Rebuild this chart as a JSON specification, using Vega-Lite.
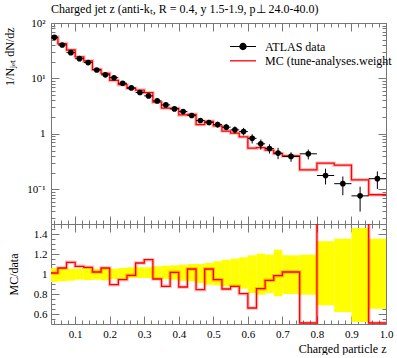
{
  "$schema": "https://vega.github.io/schema/vega-lite/v6.json",
  "padding": {"left": 2, "top": 2, "right": 0, "bottom": 0},
  "spacing": 0,
  "bounds": "flush",
  "config": {
    "view": {"stroke": "#777", "strokeWidth": 1},
    "font": "Liberation Serif",
    "axis": {"domain": false, "grid": false, "tickColor": "#777", "tickWidth": 1, "labelFont": "Liberation Serif", "labelFontSize": 11, "labelColor": "black", "titleFont": "Liberation Serif", "titleFontSize": 12, "titleFontWeight": "normal", "titleColor": "black", "labelFlush": false, "labelOverlap": false, "labelBound": false, "labelPadding": 14}
  },
  "datasets": {
    "bins": [
      {"lo": 0.03, "hi": 0.05, "z": 0.04, "y": 55.2, "ylo": 50.8, "yhi": 58.5, "mc": 55.8, "r": 1.01, "blo": 0.92, "bhi": 1.06},
      {"lo": 0.05, "hi": 0.075, "z": 0.0625, "y": 40.1, "ylo": 37.2, "yhi": 42.8, "mc": 42.5, "r": 1.06, "blo": 0.927, "bhi": 1.067},
      {"lo": 0.075, "hi": 0.1, "z": 0.0875, "y": 29.2, "ylo": 27.2, "yhi": 30.7, "mc": 32.6, "r": 1.117, "blo": 0.933, "bhi": 1.053},
      {"lo": 0.1, "hi": 0.125, "z": 0.1125, "y": 22.7, "ylo": 21.4, "yhi": 23.9, "mc": 24.4, "r": 1.077, "blo": 0.943, "bhi": 1.053},
      {"lo": 0.125, "hi": 0.15, "z": 0.1375, "y": 19.3, "ylo": 18.1, "yhi": 20.5, "mc": 20.6, "r": 1.067, "blo": 0.94, "bhi": 1.06},
      {"lo": 0.15, "hi": 0.175, "z": 0.1625, "y": 14.2, "ylo": 13.4, "yhi": 15.0, "mc": 14.5, "r": 1.02, "blo": 0.943, "bhi": 1.053},
      {"lo": 0.175, "hi": 0.2, "z": 0.1875, "y": 11.6, "ylo": 10.9, "yhi": 12.3, "mc": 12.3, "r": 1.06, "blo": 0.937, "bhi": 1.06},
      {"lo": 0.2, "hi": 0.225, "z": 0.2125, "y": 10.3, "ylo": 9.79, "yhi": 10.85, "mc": 9.2, "r": 0.893, "blo": 0.95, "bhi": 1.053},
      {"lo": 0.225, "hi": 0.25, "z": 0.2375, "y": 8.19, "ylo": 7.81, "yhi": 8.68, "mc": 7.72, "r": 0.943, "blo": 0.953, "bhi": 1.06},
      {"lo": 0.25, "hi": 0.275, "z": 0.2625, "y": 6.74, "ylo": 6.47, "yhi": 7.19, "mc": 6.65, "r": 0.987, "blo": 0.96, "bhi": 1.067},
      {"lo": 0.275, "hi": 0.3, "z": 0.2875, "y": 5.56, "ylo": 5.34, "yhi": 5.93, "mc": 6.17, "r": 1.11, "blo": 0.96, "bhi": 1.067},
      {"lo": 0.3, "hi": 0.325, "z": 0.3125, "y": 4.84, "ylo": 4.65, "yhi": 5.16, "mc": 5.53, "r": 1.143, "blo": 0.96, "bhi": 1.067},
      {"lo": 0.325, "hi": 0.35, "z": 0.3375, "y": 3.93, "ylo": 3.75, "yhi": 4.23, "mc": 3.73, "r": 0.95, "blo": 0.953, "bhi": 1.077},
      {"lo": 0.35, "hi": 0.375, "z": 0.3625, "y": 3.33, "ylo": 3.16, "yhi": 3.61, "mc": 2.92, "r": 0.877, "blo": 0.95, "bhi": 1.083},
      {"lo": 0.375, "hi": 0.4, "z": 0.3875, "y": 2.82, "ylo": 2.66, "yhi": 3.07, "mc": 2.87, "r": 1.017, "blo": 0.943, "bhi": 1.087},
      {"lo": 0.4, "hi": 0.425, "z": 0.4125, "y": 2.52, "ylo": 2.35, "yhi": 2.75, "mc": 2.19, "r": 0.87, "blo": 0.933, "bhi": 1.093},
      {"lo": 0.425, "hi": 0.45, "z": 0.4375, "y": 2.14, "ylo": 1.98, "yhi": 2.35, "mc": 2.25, "r": 1.05, "blo": 0.927, "bhi": 1.1},
      {"lo": 0.45, "hi": 0.475, "z": 0.4625, "y": 1.74, "ylo": 1.58, "yhi": 1.91, "mc": 1.47, "r": 0.843, "blo": 0.91, "bhi": 1.1},
      {"lo": 0.475, "hi": 0.5, "z": 0.4875, "y": 1.6, "ylo": 1.43, "yhi": 1.78, "mc": 1.68, "r": 1.05, "blo": 0.893, "bhi": 1.11},
      {"lo": 0.5, "hi": 0.525, "z": 0.5125, "y": 1.47, "ylo": 1.3, "yhi": 1.66, "mc": 1.39, "r": 0.943, "blo": 0.887, "bhi": 1.127},
      {"lo": 0.525, "hi": 0.55, "z": 0.5375, "y": 1.32, "ylo": 1.16, "yhi": 1.51, "mc": 1.12, "r": 0.85, "blo": 0.877, "bhi": 1.143},
      {"lo": 0.55, "hi": 0.575, "z": 0.5625, "y": 1.18, "ylo": 1.02, "yhi": 1.36, "mc": 1.03, "r": 0.877, "blo": 0.867, "bhi": 1.153},
      {"lo": 0.575, "hi": 0.6, "z": 0.5875, "y": 1.1, "ylo": 0.94, "yhi": 1.28, "mc": 0.883, "r": 0.803, "blo": 0.853, "bhi": 1.167},
      {"lo": 0.6, "hi": 0.625, "z": 0.6125, "y": 0.83, "ylo": 0.67, "yhi": 0.985, "mc": 0.55, "r": 0.66, "blo": 0.81, "bhi": 1.187},
      {"lo": 0.625, "hi": 0.65, "z": 0.6375, "y": 0.66, "ylo": 0.52, "yhi": 0.79, "mc": 0.563, "r": 0.853, "blo": 0.793, "bhi": 1.203},
      {"lo": 0.65, "hi": 0.675, "z": 0.6625, "y": 0.544, "ylo": 0.44, "yhi": 0.649, "mc": 0.51, "r": 0.937, "blo": 0.81, "bhi": 1.193},
      {"lo": 0.675, "hi": 0.7, "z": 0.6875, "y": 0.449, "ylo": 0.349, "yhi": 0.558, "mc": 0.441, "r": 0.983, "blo": 0.777, "bhi": 1.243},
      {"lo": 0.7, "hi": 0.75, "z": 0.725, "y": 0.391, "ylo": 0.313, "yhi": 0.464, "mc": 0.4, "r": 1.02, "blo": 0.8, "bhi": 1.187},
      {"lo": 0.75, "hi": 0.8, "z": 0.775, "y": 0.436, "ylo": 0.346, "yhi": 0.52, "mc": 0.224, "r": 0.51, "blo": 0.793, "bhi": 1.193},
      {"lo": 0.8, "hi": 0.85, "z": 0.825, "y": 0.177, "ylo": 0.122, "yhi": 0.235, "mc": 0.296, "r": 1.67, "blo": 0.687, "bhi": 1.327},
      {"lo": 0.85, "hi": 0.9, "z": 0.875, "y": 0.126, "ylo": 0.078, "yhi": 0.17, "mc": 0.272, "r": 2.16, "blo": 0.62, "bhi": 1.353},
      {"lo": 0.9, "hi": 0.95, "z": 0.925, "y": 0.076, "ylo": 0.0395, "yhi": 0.111, "mc": 0.148, "r": 1.95, "blo": 0.52, "bhi": 1.46},
      {"lo": 0.95, "hi": 1.0, "z": 0.975, "y": 0.155, "ylo": 0.101, "yhi": 0.21, "mc": 0.0796, "r": 0.51, "blo": 0.653, "bhi": 1.353}
    ]
  },
  "resolve": {"scale": {"fill": "independent", "stroke": "independent"}, "legend": {"fill": "independent", "stroke": "independent"}},
  "vconcat": [
    {
      "width": 335,
      "height": 201,
      "title": {"text": "Charged jet z (anti-kₜ, R = 0.4, y 1.5-1.9, p⊥ 24.0-40.0)", "anchor": "start", "frame": "group", "offset": 1.5, "fontSize": 12, "font": "Liberation Serif", "fontWeight": "normal", "color": "black"},
      "layer": [
        {
          "data": {"name": "bins"},
          "transform": [{"fold": ["lo", "hi"], "as": ["key", "edge"]}],
          "mark": {"type": "line", "color": "#ff0000", "strokeWidth": 3.5, "opacity": 0.25},
          "encoding": {
            "x": {"field": "edge", "type": "quantitative", "axis": null},
            "y": {"field": "mc", "type": "quantitative", "axis": null},
            "order": [{"field": "edge", "type": "quantitative"}, {"field": "key", "type": "nominal"}]
          }
        },
        {
          "data": {"name": "bins"},
          "transform": [{"fold": ["lo", "hi"], "as": ["key", "edge"]}],
          "mark": {"type": "line", "strokeWidth": 1.3},
          "encoding": {
            "x": {"field": "edge", "type": "quantitative", "axis": {"orient": "top", "values": [0.04,0.06,0.08,0.12,0.14,0.16,0.18,0.22,0.24,0.26,0.28,0.32,0.34,0.36,0.38,0.42,0.44,0.46,0.48,0.52,0.54,0.56,0.58,0.62,0.64,0.66,0.68,0.72,0.74,0.76,0.78,0.82,0.84,0.86,0.88,0.92,0.94,0.96,0.98], "tickSize": -4, "labels": false, "title": null}},
            "y": {"field": "mc", "type": "quantitative", "axis": {"orient": "right", "values": [0.03,0.04,0.05,0.06,0.07,0.08,0.09,0.2,0.3,0.4,0.5,0.6,0.7,0.8,0.9,2,3,4,5,6,7,8,9,20,30,40,50,60,70,80,90], "tickSize": -4, "labels": false, "title": null}},
            "order": [{"field": "edge", "type": "quantitative"}, {"field": "key", "type": "nominal"}],
            "stroke": {
              "datum": "MC (tune-analyses.weight",
              "scale": {"domain": ["MC (tune-analyses.weight"], "range": ["#ff0000"]},
              "legend": {"orient": "none", "legendX": 186, "legendY": 31.8, "title": null, "padding": 0, "symbolType": "M-2.6,0L2.6,0", "symbolSize": 100, "symbolStrokeWidth": 1.3, "labelOffset": 16, "labelFontSize": 12, "labelFont": "Liberation Serif", "labelColor": "black"}
            }
          }
        },
        {
          "data": {"name": "bins"},
          "mark": {"type": "rule", "color": "black", "strokeWidth": 1},
          "encoding": {
            "x": {"field": "lo", "type": "quantitative", "scale": {"domain": [0.03, 1.0], "nice": false, "zero": false}, "axis": {"orient": "bottom", "values": [0.1,0.2,0.3,0.4,0.5,0.6,0.7,0.8,0.9,1.0], "tickSize": -8, "labels": false, "title": null}},
            "x2": {"field": "hi"},
            "y": {"field": "y", "type": "quantitative", "scale": {"type": "log", "domain": [0.0236, 100], "nice": false}, "axis": {"orient": "left", "values": [0.1, 1, 10, 100], "tickSize": -8, "labelExpr": "datum.value == 100 ? '10²' : datum.value == 10 ? '10¹' : datum.value == 1 ? '1' : '10⁻¹'", "title": "1/Nⱼₑₜ dN/dz", "titleAngle": -90, "titleX": -42, "titleY": 4, "titleAlign": "right", "titleBaseline": "middle"}}
          }
        },
        {
          "data": {"name": "bins"},
          "mark": {"type": "rule", "color": "black", "strokeWidth": 1},
          "encoding": {
            "x": {"field": "z", "type": "quantitative", "axis": {"orient": "bottom", "values": [0.04,0.06,0.08,0.12,0.14,0.16,0.18,0.22,0.24,0.26,0.28,0.32,0.34,0.36,0.38,0.42,0.44,0.46,0.48,0.52,0.54,0.56,0.58,0.62,0.64,0.66,0.68,0.72,0.74,0.76,0.78,0.82,0.84,0.86,0.88,0.92,0.94,0.96,0.98], "tickSize": -4, "labels": false, "title": null}},
            "y": {"field": "ylo", "type": "quantitative", "axis": {"orient": "left", "values": [0.03,0.04,0.05,0.06,0.07,0.08,0.09,0.2,0.3,0.4,0.5,0.6,0.7,0.8,0.9,2,3,4,5,6,7,8,9,20,30,40,50,60,70,80,90], "tickSize": -4, "labels": false, "title": null}},
            "y2": {"field": "yhi"}
          }
        },
        {
          "data": {"name": "bins"},
          "mark": {"type": "point", "filled": true, "shape": "circle", "size": 32, "opacity": 1},
          "encoding": {
            "x": {"field": "z", "type": "quantitative", "axis": {"orient": "top", "values": [0.1,0.2,0.3,0.4,0.5,0.6,0.7,0.8,0.9,1.0], "tickSize": -8, "labels": false, "title": null}},
            "y": {"field": "y", "type": "quantitative", "axis": {"orient": "right", "values": [0.1, 1, 10, 100], "tickSize": -8, "labels": false, "title": null}},
            "fill": {
              "datum": "ATLAS data",
              "scale": {"domain": ["ATLAS data"], "range": ["#000000"]},
              "legend": {"orient": "none", "legendX": 186, "legendY": 17.5, "title": null, "padding": 0, "symbolType": "M-2.6,0L2.6,0M-0.62,0A0.62,0.62,0,1,1,0.62,0A0.62,0.62,0,1,1,-0.62,0Z", "symbolSize": 100, "symbolStrokeColor": "#000000", "symbolFillColor": "#000000", "symbolStrokeWidth": 1.2, "labelOffset": 16, "labelFontSize": 12, "labelFont": "Liberation Serif", "labelColor": "black"}
            }
          }
        }
      ],
      "resolve": {"axis": {"x": "independent", "y": "independent"}}
    },
    {
      "width": 335,
      "height": 100,
      "layer": [
        {
          "data": {"name": "bins"},
          "mark": {"type": "rect", "color": "#ffff00"},
          "encoding": {
            "x": {"field": "lo", "type": "quantitative", "scale": {"domain": [0.03, 1.0], "nice": false, "zero": false}, "axis": {"orient": "bottom", "values": [0.1,0.2,0.3,0.4,0.5,0.6,0.7,0.8,0.9,1.0], "format": ".1f", "tickSize": -8, "labelPadding": 12, "title": "Charged particle z", "titleX": 335, "titleY": 28, "titleAlign": "right", "titleBaseline": "alphabetic", "titleAnchor": null}},
            "x2": {"field": "hi"},
            "y": {"field": "blo", "type": "quantitative", "scale": {"domain": [0.5, 1.5], "nice": false, "zero": false}, "axis": {"orient": "left", "values": [0.6, 0.8, 1, 1.2, 1.4], "format": "~g", "tickSize": -8, "labelPadding": 12, "title": "MC/data", "titleAngle": -90, "titleX": -38, "titleY": 50, "titleAlign": "center", "titleBaseline": "middle"}},
            "y2": {"field": "bhi"}
          }
        },
        {
          "mark": {"type": "rule", "color": "#555", "strokeWidth": 1},
          "encoding": {
            "x": {"datum": 0.03, "type": "quantitative", "axis": {"orient": "bottom", "values": [0.04,0.06,0.08,0.12,0.14,0.16,0.18,0.22,0.24,0.26,0.28,0.32,0.34,0.36,0.38,0.42,0.44,0.46,0.48,0.52,0.54,0.56,0.58,0.62,0.64,0.66,0.68,0.72,0.74,0.76,0.78,0.82,0.84,0.86,0.88,0.92,0.94,0.96,0.98], "tickSize": -4, "labels": false, "title": null}},
            "x2": {"datum": 1.0},
            "y": {"datum": 1, "type": "quantitative", "axis": {"orient": "left", "values": [0.55,0.65,0.7,0.75,0.85,0.9,0.95,1.05,1.1,1.15,1.25,1.3,1.35,1.45], "tickSize": -4, "labels": false, "title": null}}
          }
        },
        {
          "data": {"name": "bins"},
          "transform": [{"fold": ["lo", "hi"], "as": ["key", "edge"]}],
          "mark": {"type": "line", "color": "#ff0000", "strokeWidth": 3.5, "opacity": 0.25, "clip": true},
          "encoding": {
            "x": {"field": "edge", "type": "quantitative", "axis": {"orient": "top", "values": [0.1,0.2,0.3,0.4,0.5,0.6,0.7,0.8,0.9,1.0], "tickSize": -8, "labels": false, "title": null}},
            "y": {"field": "r", "type": "quantitative", "axis": {"orient": "right", "values": [0.6, 0.8, 1, 1.2, 1.4], "tickSize": -8, "labels": false, "title": null}},
            "order": [{"field": "edge", "type": "quantitative"}, {"field": "key", "type": "nominal"}]
          }
        },
        {
          "data": {"name": "bins"},
          "transform": [{"fold": ["lo", "hi"], "as": ["key", "edge"]}],
          "mark": {"type": "line", "color": "#ff0000", "strokeWidth": 1.3, "clip": true},
          "encoding": {
            "x": {"field": "edge", "type": "quantitative", "axis": {"orient": "top", "values": [0.04,0.06,0.08,0.12,0.14,0.16,0.18,0.22,0.24,0.26,0.28,0.32,0.34,0.36,0.38,0.42,0.44,0.46,0.48,0.52,0.54,0.56,0.58,0.62,0.64,0.66,0.68,0.72,0.74,0.76,0.78,0.82,0.84,0.86,0.88,0.92,0.94,0.96,0.98], "tickSize": -4, "labels": false, "title": null}},
            "y": {"field": "r", "type": "quantitative", "axis": {"orient": "right", "values": [0.55,0.65,0.7,0.75,0.85,0.9,0.95,1.05,1.1,1.15,1.25,1.3,1.35,1.45], "tickSize": -4, "labels": false, "title": null}},
            "order": [{"field": "edge", "type": "quantitative"}, {"field": "key", "type": "nominal"}]
          }
        }
      ],
      "resolve": {"axis": {"x": "independent", "y": "independent"}}
    }
  ]
}
